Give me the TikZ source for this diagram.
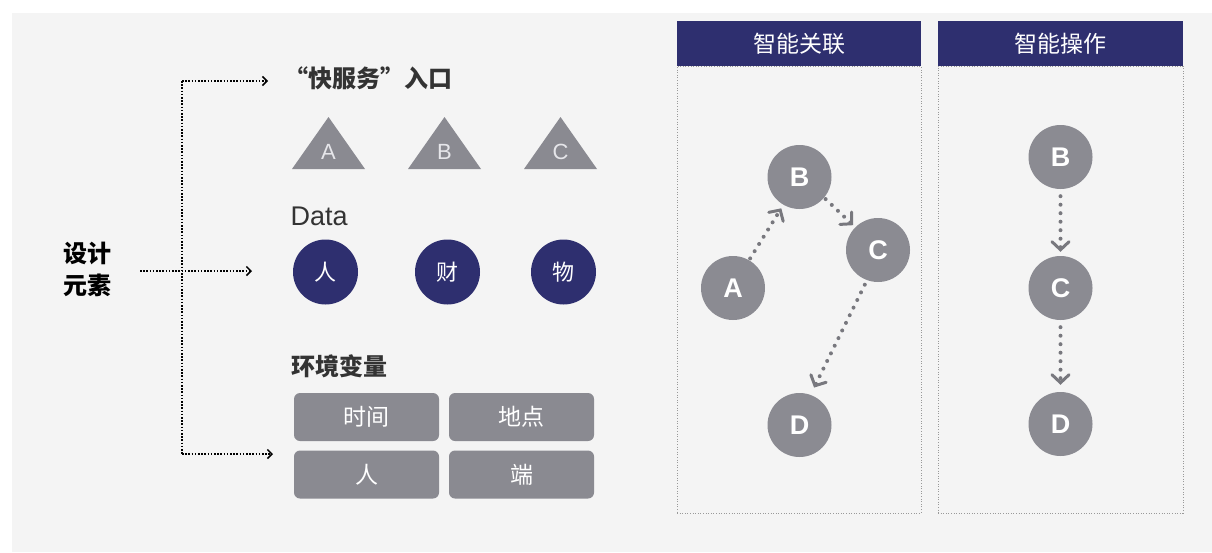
\documentclass[tikz,border=0pt]{standalone}
\usepackage{fontspec}
\setmainfont{Noto Sans CJK SC}
\newfontfamily\lat{Liberation Sans}
\usetikzlibrary{arrows.meta}
\definecolor{bgc}{HTML}{F4F4F4}
\definecolor{navy}{HTML}{2E2F6F}
\definecolor{gcirc}{HTML}{8B8B92}
\definecolor{gbox}{HTML}{8A8A91}
\definecolor{gline}{HTML}{78787E}
\definecolor{txt}{HTML}{333333}
\definecolor{tlight}{HTML}{E6E6EA}
\begin{document}
\begin{tikzpicture}[x=1pt,y=-1pt,
  heading/.style={anchor=west,text=txt,font=\bfseries\fontsize{24}{28}\selectfont},
  tri/.style={fill=gbox},
  trilabel/.style={text=tlight,font=\lat\fontsize{22}{24}\selectfont},
  datac/.style={circle,fill=navy,minimum size=65,inner sep=0,text=white,font=\fontsize{22}{24}\selectfont},
  envbox/.style={rounded corners=6,fill=gbox,minimum width=145,minimum height=48,inner sep=0,text=white,font=\fontsize{23}{26}\selectfont},
  head/.style={fill=navy,minimum width=244,minimum height=45,inner sep=0,text=white,font=\fontsize{23}{26}\selectfont},
  panel/.style={draw=gray!80,line width=1pt,dash pattern=on 1pt off 1.6pt,minimum width=244,minimum height=447,inner sep=0},
  gnode/.style={circle,fill=gcirc,minimum size=64,inner sep=0,text=white,font=\lat\bfseries\fontsize{27}{30}\selectfont},
  garrow/.style={draw=gline,line width=4pt,line cap=round,dash pattern=on 0pt off 8.5pt,
     -{Straight Barb[length=8pt,width=17pt,line width=3pt,line cap=round]}},
  karrow/.style={draw=black,line width=1.5pt,dash pattern=on 1.5pt off 1.7pt,
     -{Straight Barb[length=4.5pt,width=9pt,line width=1.5pt]}}
]
\useasboundingbox (0,0) rectangle (1212,552);
\fill[white] (0,0) rectangle (1212,552);
\fill[bgc] (12,13) rectangle (1212,552);

% left label
\node[anchor=west,align=left,text=black,font=\bfseries\fontsize{24}{32}\selectfont] (design) at (60,269) {设计\\元素};

% connectors
\coordinate (jt) at (182,81);
\coordinate (jb) at (182,454);
\coordinate (mstart) at (140,271);
\coordinate (tipT) at (268,81);
\coordinate (tipM) at (252,271);
\coordinate (tipB) at (273,454);
\draw[karrow,-] (jt) -- (jb);
\draw[karrow] (jt) -- (tipT);
\draw[karrow] (jb) -- (tipB);
\draw[karrow] (mstart) -- (tipM);

% headings
\node[heading] (kfw) at (281,78) {“快服务”入口};
\node[heading,font=\lat\fontsize{27}{30}\selectfont] (data) at (287,216) {Data};
\node[heading] (env) at (288,366) {环境变量};

% triangles
\fill[tri] (292,169) -- (328.5,117) -- (365,169) -- cycle;
\fill[tri] (408,169) -- (444.5,117) -- (481,169) -- cycle;
\fill[tri] (524,169) -- (560.5,117) -- (597,169) -- cycle;
\node[trilabel] (ta) at (328.5,152) {A};
\node[trilabel] (tb) at (444.5,152) {B};
\node[trilabel] (tc) at (560.5,152) {C};

% data circles
\node[datac] (ren) at (325.5,272) {人};
\node[datac] (cai) at (447.5,272) {财};
\node[datac] (wu) at (563.5,272) {物};

% env boxes
\node[envbox] (shijian) at (366.5,417) {时间};
\node[envbox] (didian) at (521.5,417) {地点};
\node[envbox] (ren2) at (366.5,474.5) {人};
\node[envbox] (duan) at (521.5,474.5) {端};

% panels
\node[panel] (box1) at (799,289.5) {};
\node[panel,minimum width=245] (box2) at (1060.5,289.5) {};
\node[head] (h1) at (799,43.5) {智能关联};
\node[head,minimum width=245] (h2) at (1060.5,43.5) {智能操作};

% panel 1 graph
\node[gnode] (A) at (733,288) {A};
\node[gnode] (B) at (799.5,177) {B};
\node[gnode] (C) at (878,250) {C};
\node[gnode] (D) at (799.5,425) {D};
\draw[garrow,shorten >=4pt,shorten <=2pt] (A.60) -- (B.240);
\draw[garrow,shorten >=3pt,shorten <=2pt] (B.-40) -- (C.135);
\draw[garrow,shorten >=8pt,shorten <=5pt] (C.250) -- (D.70);

% panel 2 graph
\node[gnode] (B2) at (1060.5,157) {B};
\node[gnode] (C2) at (1060.5,288) {C};
\node[gnode] (D2) at (1060.5,424) {D};
\draw[garrow,shorten >=4pt,shorten <=7pt] (B2) -- (C2);
\draw[garrow,shorten >=7pt,shorten <=7pt] (C2) -- (D2);
\end{tikzpicture}
\end{document}
